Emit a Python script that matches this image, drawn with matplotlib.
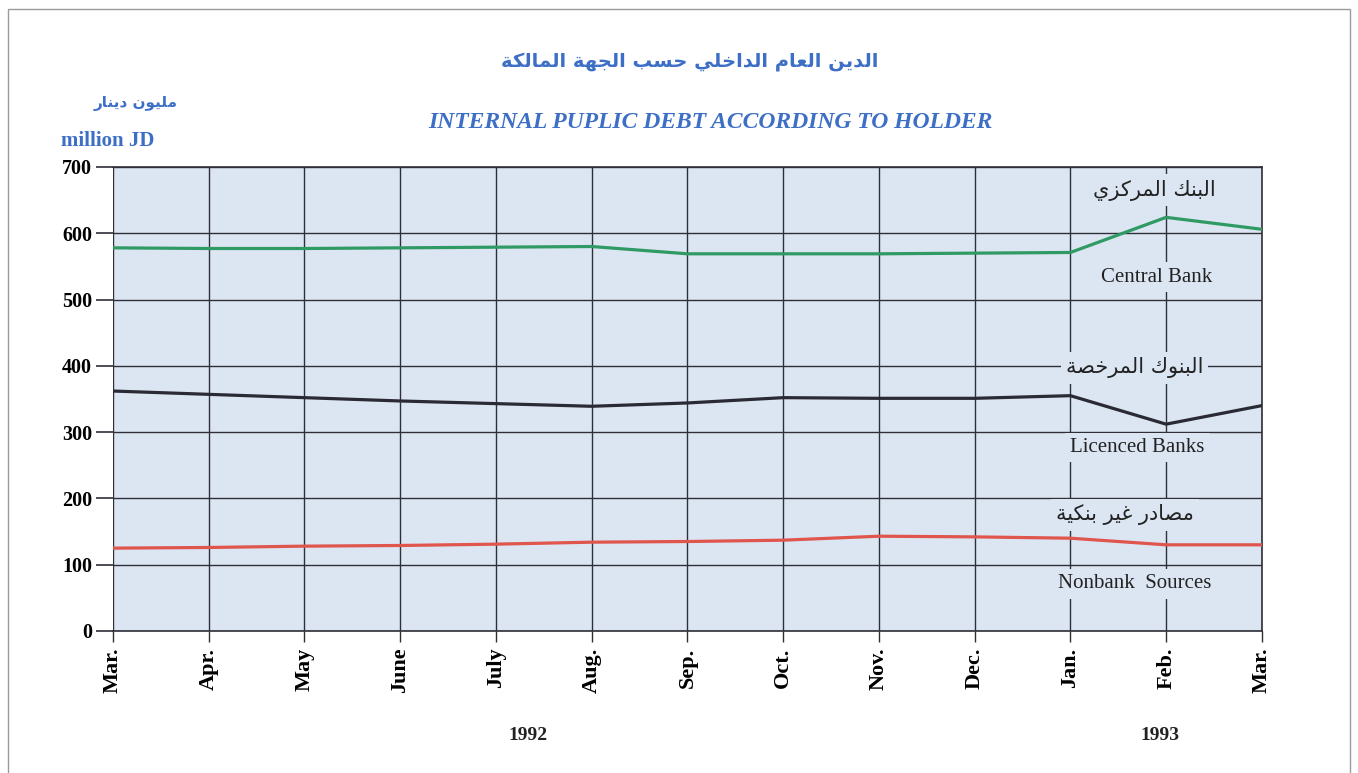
import matplotlib
matplotlib.use("Agg")
import matplotlib.pyplot as plt
from matplotlib.patches import Rectangle

# data (million JD)
months = ["Mar.", "Apr.", "May", "June", "July", "Aug.", "Sep.", "Oct.",
          "Nov.", "Dec.", "Jan.", "Feb.", "Mar."]
central_bank = [578, 577, 577, 578, 579, 580, 569, 569, 569, 570, 571, 624, 606]
licenced_banks = [362, 357, 352, 347, 343, 339, 344, 352, 351, 351, 355, 312, 340]
nonbank = [125, 126, 128, 129, 131, 134, 135, 137, 143, 142, 140, 130, 130]
yticks = [0, 100, 200, 300, 400, 500, 600, 700]

title_ar = "الدين العام الداخلي حسب الجهة المالكة"
title_en = "INTERNAL PUPLIC DEBT ACCORDING TO HOLDER"
unit_ar = "مليون دينار"
unit_en = "million JD"
labels_ar = ["البنك المركزي", "البنوك المرخصة", "مصادر غير بنكية"]
labels_en = ["Central Bank", "Licenced Banks", "Nonbank  Sources"]

# minimal arabic shaping: (isolated, final, initial, medial); 2-tuple = joins right only
FORMS = {
    "ا": (0xFE8D, 0xFE8E), "ب": (0xFE8F, 0xFE90, 0xFE91, 0xFE92),
    "ة": (0xFE93, 0xFE94), "ج": (0xFE9D, 0xFE9E, 0xFE9F, 0xFEA0),
    "ح": (0xFEA1, 0xFEA2, 0xFEA3, 0xFEA4), "خ": (0xFEA5, 0xFEA6, 0xFEA7, 0xFEA8),
    "د": (0xFEA9, 0xFEAA), "ر": (0xFEAD, 0xFEAE), "ز": (0xFEAF, 0xFEB0),
    "س": (0xFEB1, 0xFEB2, 0xFEB3, 0xFEB4), "ص": (0xFEB9, 0xFEBA, 0xFEBB, 0xFEBC),
    "ع": (0xFEC9, 0xFECA, 0xFECB, 0xFECC), "غ": (0xFECD, 0xFECE, 0xFECF, 0xFED0),
    "ك": (0xFED9, 0xFEDA, 0xFEDB, 0xFEDC), "ل": (0xFEDD, 0xFEDE, 0xFEDF, 0xFEE0),
    "م": (0xFEE1, 0xFEE2, 0xFEE3, 0xFEE4), "ن": (0xFEE5, 0xFEE6, 0xFEE7, 0xFEE8),
    "ه": (0xFEE9, 0xFEEA, 0xFEEB, 0xFEEC), "و": (0xFEED, 0xFEEE),
    "ي": (0xFEF1, 0xFEF2, 0xFEF3, 0xFEF4),
}


def shape(text):
    out = []
    for i, c in enumerate(text):
        f = FORMS.get(c)
        if f is None:
            out.append(c)
            continue
        prev = text[i - 1] if i > 0 else ""
        nxt = text[i + 1] if i < len(text) - 1 else ""
        joins_prev = prev in FORMS and len(FORMS[prev]) == 4
        joins_next = len(f) == 4 and nxt in FORMS
        if joins_prev and joins_next:
            out.append(chr(f[3]))
        elif joins_prev:
            out.append(chr(f[1]))
        elif joins_next:
            out.append(chr(f[2]))
        else:
            out.append(chr(f[0]))
    return "".join(out)[::-1]


serif = "Liberation Serif"
blue = "#3d6fc6"
bg = "#dce6f3"
grid_c = "#2f2f38"

fig = plt.figure(figsize=(13.58, 7.73), dpi=100)
fig.patches.append(Rectangle((0.006, -0.01), 0.988, 0.999, transform=fig.transFigure,
                             fill=False, edgecolor="#9a9a9a", lw=1.0))
ax = fig.add_axes([0.0832, 0.1837, 0.846, 0.6003])
ax.set_facecolor(bg)

x = list(range(len(months)))
ax.plot(x, central_bank, color="#2f9a63", lw=2.3, zorder=4)
ax.plot(x, licenced_banks, color="#2a2a34", lw=2.3, zorder=4)
ax.plot(x, nonbank, color="#e0554c", lw=2.3, zorder=4)

ax.set_xlim(0, len(months) - 1)
ax.set_ylim(0, 700)
ax.set_yticks(yticks)
ax.set_yticklabels([str(v) for v in yticks], fontfamily=serif, fontweight="bold", fontsize=14.5)
ax.set_xticks(x)
ax.set_xticklabels(months, rotation=90, fontfamily=serif, fontweight="bold", fontsize=16,
                   va="top")
ax.tick_params(axis="y", length=12, width=1.2, color=grid_c, pad=3)
ax.tick_params(axis="x", length=8, width=1.0, color=grid_c, pad=4)
ax.grid(True, color=grid_c, lw=1.0, zorder=1)
ax.set_axisbelow(True)
ax.spines["left"].set_visible(False)
for s in ["top", "right", "bottom"]:
    ax.spines[s].set_color(grid_c)
    ax.spines[s].set_linewidth(1.2)

# series labels on the right, masking the grid behind them
lab_kw = dict(ha="center", va="center", zorder=3,
              bbox=dict(boxstyle="square,pad=0.25", fc=bg, ec="none"))
ar_pos = [(10.88, 665), (10.67, 397), (10.57, 175)]
en_pos = [(10.9, 534), (10.7, 277), (10.67, 71)]
for t, (px, py) in zip(labels_ar, ar_pos):
    ax.text(px, py, shape(t), fontsize=15, color="#222", fontfamily="DejaVu Sans", **lab_kw)
for t, (px, py) in zip(labels_en, en_pos):
    ax.text(px, py, t, fontsize=15, color="#222", fontfamily=serif, **lab_kw)

# titles and unit labels
fig.text(0.508, 0.92, shape(title_ar), ha="center", va="center", color=blue,
         fontsize=14, fontweight="bold", fontfamily="DejaVu Sans")
fig.text(0.523, 0.842, title_en, ha="center", va="center", color=blue,
         fontsize=17, fontweight="bold", style="italic", fontfamily=serif)
fig.text(0.100, 0.866, shape(unit_ar), ha="center", va="center", color=blue,
         fontsize=11, fontweight="bold", fontfamily="DejaVu Sans")
fig.text(0.079, 0.818, unit_en, ha="center", va="center", color=blue,
         fontsize=15, fontweight="bold", fontfamily=serif)

fig.text(0.389, 0.049, "1992", ha="center", va="center", fontsize=14,
         fontweight="bold", fontfamily=serif, color="#222")
fig.text(0.854, 0.049, "1993", ha="center", va="center", fontsize=14,
         fontweight="bold", fontfamily=serif, color="#222")

fig.savefig("out.png", dpi=100, facecolor="white")
